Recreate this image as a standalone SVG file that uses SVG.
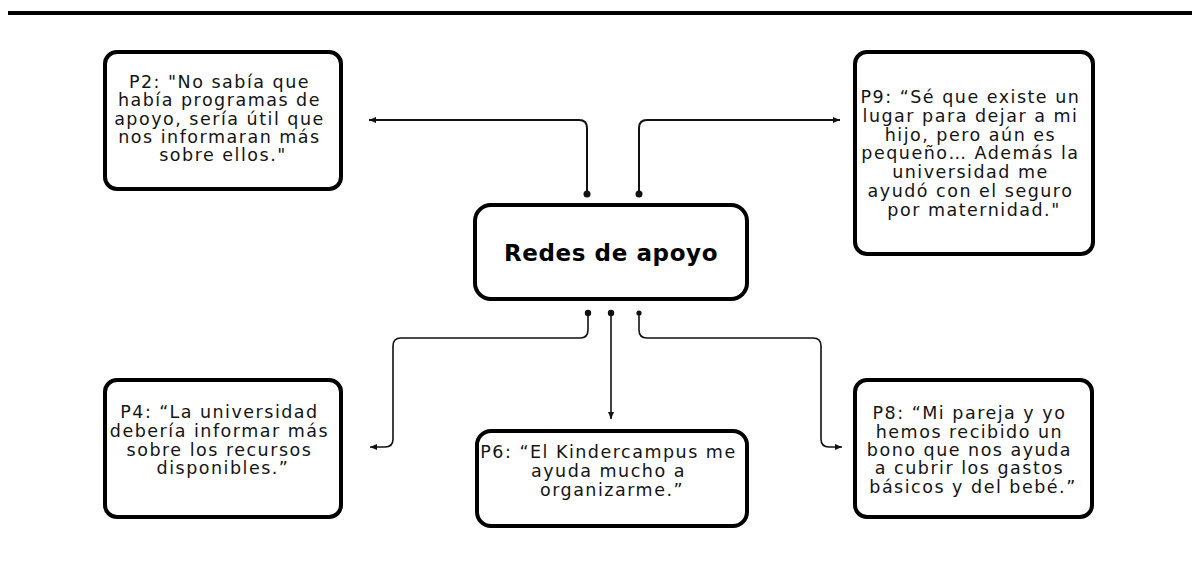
<svg xmlns="http://www.w3.org/2000/svg" width="1192" height="562" viewBox="0 0 1192 562">
  <style>
    .box { fill: #ffffff; stroke: #000000; stroke-width: 4; }
    .q { font-family: "DejaVu Sans", "Liberation Sans", sans-serif; font-size: 17.5px; letter-spacing: 1.5px; fill: #141414; text-anchor: middle; }
    .title { font-family: "DejaVu Sans", "Liberation Sans", sans-serif; font-size: 23px; font-weight: bold; letter-spacing: 0.6px; fill: #000000; text-anchor: middle; }
    .conn { fill: none; stroke: #111111; stroke-width: 2; }
    .thin { stroke-width: 1.6; }
    .dot { fill: #111111; }
  </style>
  <defs>
    <marker id="arrow" markerUnits="userSpaceOnUse" markerWidth="8" markerHeight="7" refX="7" refY="3.5" orient="auto">
      <path d="M0,0.5 L7,3.5 L0,6.5 z" fill="#111111"/>
    </marker>
  </defs>
  <rect x="0" y="0" width="1192" height="562" fill="#ffffff"/>
  <line x1="8" y1="13" x2="1192" y2="13" stroke="#000000" stroke-width="4"/>

  <g id="connectors">
    <path class="conn" d="M587,194 V128 Q587,120 579,120 H369" marker-end="url(#arrow)"/>
    <path class="conn" d="M639,194 V128 Q639,120 647,120 H840" marker-end="url(#arrow)"/>
    <path class="conn thin" d="M588,313 V330 Q588,338 580,338 H401 Q393,338 393,346 V439 Q393,447 385,447 H370" marker-end="url(#arrow)"/>
    <path class="conn thin" d="M611,313 V419" marker-end="url(#arrow)"/>
    <path class="conn thin" d="M639,313 V330 Q639,338 647,338 H813 Q821,338 821,346 V439 Q821,447 829,447 H842" marker-end="url(#arrow)"/>
    <circle class="dot" cx="587" cy="194" r="3.5"/>
    <circle class="dot" cx="639" cy="194" r="3.5"/>
    <circle class="dot" cx="588" cy="313" r="3.2"/>
    <circle class="dot" cx="611" cy="313" r="3.2"/>
    <circle class="dot" cx="639" cy="313" r="2.6"/>
  </g>

  <g id="node-center">
    <rect class="box" x="475" y="205" width="272" height="94" rx="16"/>
    <text class="title" x="611" y="261">Redes de apoyo</text>
  </g>

  <g id="node-p2">
    <rect class="box" x="105" y="52" width="236" height="137" rx="12"/>
    <text class="q">
      <tspan x="223" y="88">P2: "No sabía que</tspan>
      <tspan x="223" y="106.3">había programas de</tspan>
      <tspan x="223" y="124.6">apoyo, sería útil que</tspan>
      <tspan x="223" y="143">nos informaran más</tspan>
      <tspan x="223" y="161.3">sobre ellos."</tspan>
    </text>
  </g>

  <g id="node-p9">
    <rect class="box" x="855" y="52" width="238" height="202" rx="12"/>
    <text class="q">
      <tspan x="974" y="102.7">P9: “Sé que existe un</tspan>
      <tspan x="974" y="121.6">lugar para dejar a mi</tspan>
      <tspan x="974" y="140.5">hijo, pero aún es</tspan>
      <tspan x="974" y="159.4">pequeño… Además la</tspan>
      <tspan x="974" y="178.3">universidad me</tspan>
      <tspan x="974" y="197.2">ayudó con el seguro</tspan>
      <tspan x="974" y="216.1">por maternidad."</tspan>
    </text>
  </g>

  <g id="node-p4">
    <rect class="box" x="105" y="380" width="236" height="137" rx="12"/>
    <text class="q">
      <tspan x="223" y="417.7">P4: “La universidad</tspan>
      <tspan x="223" y="436.6">debería informar más</tspan>
      <tspan x="223" y="455.5">sobre los recursos</tspan>
      <tspan x="223" y="474.4">disponibles.”</tspan>
    </text>
  </g>

  <g id="node-p6">
    <rect class="box" x="477" y="431" width="270" height="95" rx="14"/>
    <text class="q">
      <tspan x="612" y="457.7">P6: “El Kindercampus me</tspan>
      <tspan x="612" y="476.8">ayuda mucho a</tspan>
      <tspan x="612" y="495.9">organizarme.”</tspan>
    </text>
  </g>

  <g id="node-p8">
    <rect class="box" x="855" y="380" width="237" height="137" rx="12"/>
    <text class="q">
      <tspan x="973" y="419.3">P8: “Mi pareja y yo</tspan>
      <tspan x="973" y="437.6">hemos recibido un</tspan>
      <tspan x="973" y="455.9">bono que nos ayuda</tspan>
      <tspan x="973" y="474.2">a cubrir los gastos</tspan>
      <tspan x="973" y="492.5">básicos y del bebé.”</tspan>
    </text>
  </g>
</svg>
